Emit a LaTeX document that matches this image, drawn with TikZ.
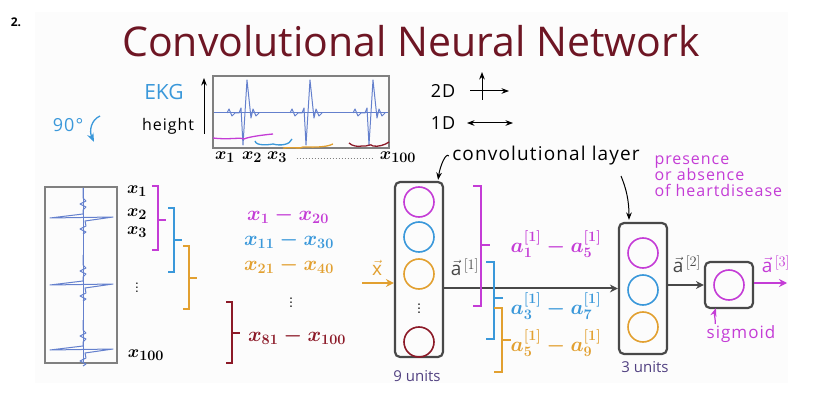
\documentclass[tikz,border=0pt]{standalone}
\usepackage{amsmath}
\usepackage{fontspec}
\setsansfont{Open Sans}
\newfontfamily\titlefont{Open Sans}
\newfontfamily\handfont[LetterSpace=6]{Open Sans}
\usetikzlibrary{arrows.meta,calc}
\definecolor{titlered}{RGB}{110,22,36}
\definecolor{mag}{RGB}{196,60,214}
\definecolor{blu}{RGB}{58,152,218}
\definecolor{org}{RGB}{226,160,48}
\definecolor{dred}{RGB}{140,26,40}
\definecolor{ekgblue}{RGB}{100,128,205}
\definecolor{unitcol}{RGB}{82,66,130}
\definecolor{darkline}{RGB}{72,72,72}
\definecolor{panel}{RGB}{252,252,252}

\begin{document}
\begin{tikzpicture}[x=1pt,y=-1pt,
  unitbox/.style={draw=darkline,line width=2.2pt,rounded corners=5pt,minimum width=48pt,inner sep=0pt},
  unit/.style={circle,draw,line width=1.6pt,minimum size=30pt,inner sep=0pt},
  brk/.style={line width=1.2pt},
  conn/.style={-{Stealth[length=8pt,width=8pt]},line width=2pt},
  mlabel/.style={font=\fontsize{20}{24}\selectfont\boldmath},
  xlabel/.style={font=\fontsize{19}{22}\selectfont\boldmath},
  vlabel/.style={font=\fontsize{19}{22}\selectfont, inner sep=1pt},
  hand/.style={font=\handfont\fontsize{16}{18}\selectfont}]
  \useasboundingbox (0,0) rectangle (815,401);
  \fill[panel] (35,12) rectangle (788,383);
  % Titol
  \node[font=\sffamily\bfseries\fontsize{12}{14}\selectfont] (num) at (16,22) {2.};
  \node[font=\titlefont\fontsize{41}{46}\selectfont, text=titlered] (title) at (411,41) {Convolutional Neural Network};

  % Senyal EKG horitzontal
  \node[text=blu, font=\sffamily\fontsize{21}{24}\selectfont] (ekg) at (164,92) {EKG};
  \node[hand] (height) at (168,126) {height};
  \draw[-{Stealth}, line width=1pt] (204,134) -- (204,78);
  \node[draw=gray, line width=1.2pt, minimum width=176pt, minimum height=72pt, inner sep=0pt] (ekgbox) at (301,112) {};
  \draw[ekgblue, line width=1pt] (214,113) -- (388,113);
  \foreach \c in {247,310,373}
    \draw[ekgblue, line width=1pt, line join=round]
      ({\c-20},113) -- ({\c-18},109) -- ({\c-15},116) -- ({\c-12},113) -- ({\c-8},113) -- ({\c-6},108)
      -- ({\c-4},145) -- (\c,80) -- ({\c+4},118) -- ({\c+6},109) -- ({\c+9},116) -- ({\c+12},113);
  % claus de colors sota el senyal
  \draw[mag, line width=1.3pt] (213,138) .. controls (230,140) and (240,137) .. (244,139) .. controls (248,137) and (262,135) .. (273,134);
  \draw[blu, line width=1.3pt] (255,141) .. controls (256,146) and (268,145) .. (273,144) .. controls (280,146) and (290,145) .. (292,139);
  \draw[org, line width=1.3pt] (283,148) .. controls (295,147) and (300,149) .. (303,147) .. controls (310,147) and (325,148) .. (333,144);
  \draw[dred, line width=1.3pt] (349,143) .. controls (352,146) and (358,147) .. (362,146) .. controls (368,147) and (370,143) .. (373,146) .. controls (378,147) and (385,145) .. (389,142);
  \node[xlabel] (xa) at (225,157) {$x_1$};
  \node[xlabel] (xb) at (252,157) {$x_2$};
  \node[xlabel] (xc) at (277,157) {$x_3$};
  \node[xlabel] (xz) at (398,157) {$x_{100}$};
  \draw[dotted, gray, line width=1pt] ($(xc.east)+(6,2)$) -- ($(xz.west)+(-2,2)$);

  % 2D i 1D
  \node[hand, font=\handfont\fontsize{18}{20}\selectfont] (twod) at (443,91) {2D};
  \draw[-{Stealth}, line width=1pt] (482,100) -- (482,72);
  \draw[-{Stealth}, line width=1pt] (470,91) -- (509,91);
  \node[hand, font=\handfont\fontsize{18}{20}\selectfont] (oned) at (443,123) {1D};
  \draw[{Stealth}-{Stealth}, line width=1pt] (467,123) -- (513,123);

  % Gir de 90 graus
  \node[hand, text=blu, font=\handfont\fontsize{18}{20}\selectfont] (deg) at (68,125) {90°};
  \draw[blu, -{Stealth}, line width=1.3pt] (100,116) .. controls (91,120) and (89,131) .. (94,142);

  % Senyal EKG vertical
  \node[draw=gray, line width=1.2pt, minimum width=72pt, minimum height=176pt, inner sep=0pt] (vpanel) at (81,275) {};
  \draw[ekgblue, line width=1pt] (83,188) -- (83,362);
  \foreach \s in {218,285,350}
    \draw[ekgblue, line width=1pt, line join=round]
      (83,{\s-30}) -- (83,{\s-20}) -- (86,{\s-17}) -- (80,{\s-14}) -- (86,{\s-11}) -- (83,{\s-8})
      -- (83,{\s-4}) -- (50,\s) -- (113,{\s-1}) -- (85,{\s+3}) -- (86,{\s+8}) -- (80,{\s+11}) -- (86,{\s+14}) -- (83,{\s+16});
  \node[xlabel] (va) at (137,191) {$x_1$};
  \node[xlabel] (vb) at (137,214) {$x_2$};
  \node[xlabel] (vc) at (137,232) {$x_3$};
  \node[xlabel] (vd) at (137,285) {$\vdots$};
  \node[xlabel] (vz) at (146,355) {$x_{100}$};

  % Claudators de finestres
  \foreach \xb/\yt/\yb/\ym/\col in {158/186/250/220/mag, 174/208/272/240/blu, 189/246/309/278/org, 232/302/363/333/dred}
    \draw[brk, \col] ({\xb-6},\yt) -- (\xb,\yt) -- (\xb,\yb) -- ({\xb-6},\yb) (\xb,\ym) -- ({\xb+8},\ym);
  \node[mlabel, text=mag] (w1) at (288,215) {$x_1-x_{20}$};
  \node[mlabel, text=blu] (w2) at (289,240) {$x_{11}-x_{30}$};
  \node[mlabel, text=org] (w3) at (289,265) {$x_{21}-x_{40}$};
  \node[mlabel] (wd) at (291,300) {$\vdots$};
  \node[mlabel, text=dred] (w9) at (297,336) {$x_{81}-x_{100}$};

  % Capa convolucional
  \node[unitbox, minimum height=175pt] (box1) at (419,269.5) {};
  \node[unit, draw=mag] (u11) at (419,202) {};
  \node[unit, draw=blu] (u12) at (419,237) {};
  \node[unit, draw=org] (u13) at (419,274) {};
  \node[mlabel] (u1d) at (419,306) {$\vdots$};
  \node[unit, draw=dred] (u19) at (419,342) {};
  \node[text=unitcol, font=\sffamily\fontsize{15}{17}\selectfont] (n1) at (417,376) {9 units};
  \coordinate (xin) at (362,283);
  \draw[conn, org] (xin) -- (xin -| box1.west);
  \node[vlabel, text=org] (xvec) at (377,268) {$\vec{\mathsf{x}}$};
  \node[vlabel, text=darkline] (a1vec) at (465,267) {$\vec{\mathsf{a}}^{\,[1]}$};

  % Segona capa
  \node[unitbox, minimum height=131pt] (box2) at (643,288.5) {};
  \node[unit, draw=mag] (u21) at (643,253) {};
  \node[unit, draw=blu] (u22) at (643,290) {};
  \node[unit, draw=org] (u23) at (643,327) {};
  \node[text=unitcol, font=\sffamily\fontsize{15}{17}\selectfont] (n2) at (645,367) {3 units};
  \draw[conn, darkline] (box1.east |- box2.west) -- (box2.west);
  \foreach \xb/\yt/\yb/\ym/\col in {481/186/306/245/mag, 494/262/339/298/blu, 502/308/372/340/org}
    \draw[brk, \col] ({\xb-8},\yt) -- (\xb,\yt) -- (\xb,\yb) -- ({\xb-8},\yb) (\xb,\ym) -- ({\xb+9},\ym);
  \node[mlabel, text=mag] (r1) at (556,244) {$a^{[1]}_1-a^{[1]}_5$};
  \node[mlabel, text=blu] (r2) at (556,306) {$a^{[1]}_3-a^{[1]}_7$};
  \node[mlabel, text=org] (r3) at (556,343) {$a^{[1]}_5-a^{[1]}_9$};

  % Sortida
  \node[unitbox, minimum height=46pt] (box3) at (729,285) {};
  \node[unit, draw=mag] (u31) at (729,285) {};
  \node[vlabel, text=darkline] (a2vec) at (687,264) {$\vec{\mathsf{a}}^{\,[2]}$};
  \draw[conn, darkline] (box2.east |- box3.west) -- (box3.west);
  \coordinate (yout) at (787,283);
  \draw[conn, mag] (box3.east |- yout) -- (yout);
  \node[vlabel, text=mag] (a3vec) at (776,264) {$\vec{\mathsf{a}}^{\,[3]}$};
  \node[hand, text=mag, font=\handfont\fontsize{17}{19}\selectfont] (sig) at (741,334) {sigmoid};
  \draw[mag, -{Stealth}, line width=1.2pt] ($(sig.north west)+(12,2)$) .. controls (716,322) and (714,314) .. ($(box3.south west)+(12,-1)$);

  % Etiquetes
  \node[hand, font=\handfont\fontsize{19}{21}\selectfont] (convl) at (546,156) {convolutional layer};
  \draw[-{Stealth}, line width=1pt] (convl.west) .. controls (446,152) and (440,166) .. ($(box1.north east)+(-6,-1)$);
  \coordinate (cl2) at (621,176);
  \draw[-{Stealth}, line width=1pt] (cl2) .. controls (626,188) and (629,200) .. ($(box2.north)+(-14,-2)$);
  \node[hand, text=mag, align=left, anchor=north west, font=\handfont\fontsize{16}{16}\selectfont] (pres) at (651,152) {presence\\or absence\\of heartdisease};
\end{tikzpicture}
\end{document}
